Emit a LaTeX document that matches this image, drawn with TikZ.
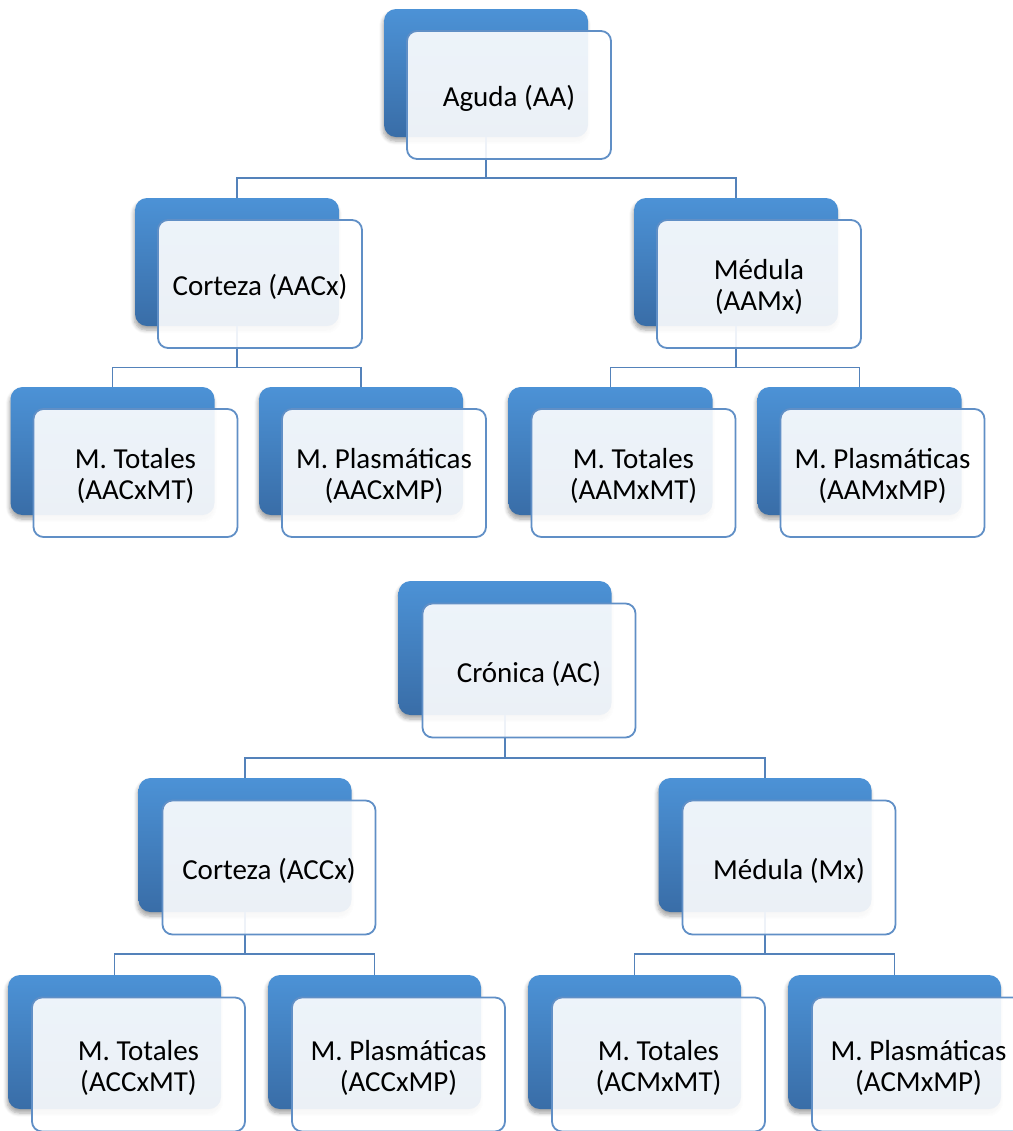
\documentclass[tikz,border=0pt]{standalone}
\usepackage{fontspec}
\setmainfont{Carlito}
\usetikzlibrary{shadows.blur}
\definecolor{bluetop}{RGB}{76,146,214}
\definecolor{bluebot}{RGB}{57,109,167}
\definecolor{frontline}{RGB}{96,143,198}
\definecolor{linecol}{RGB}{84,130,186}
\tikzset{
  backbox/.style={rectangle, rounded corners=6pt, top color=bluetop, bottom color=bluebot, draw=none, inner sep=0pt,
    blur shadow={shadow xshift=-0.5pt, shadow yshift=-2pt, shadow blur steps=6, shadow opacity=35}},
  frontbox/.style={rectangle, rounded corners=5pt, fill=white, fill opacity=0.9, draw=frontline, line width=0.9pt,
    inner sep=0pt,
    label={[inner sep=0pt, align=center, text opacity=1, fill opacity=1, yshift=-1.5pt, font=\fontsize{14.5}{15.5}\selectfont]center:#1}},
  small/.style={minimum width=102pt, minimum height=64pt},
  big/.style={minimum width=106.5pt, minimum height=67pt},
  conn/.style={draw=linecol, line width=0.85pt},
}
\begin{document}
\begin{tikzpicture}[x=0.5pt,y=-0.5pt]
\useasboundingbox (0,0) rectangle (1013,1131);
\clip (0,0) rectangle (1013,1131);
% ---------- upper tree: back boxes ----------
\node[backbox,small] (aaB)     at (486,73) {};
\node[backbox,small] (aacxB)   at (237,262) {};
\node[backbox,small] (aamxB)   at (736,262) {};
\node[backbox,small] (aacxmtB) at (112.5,451) {};
\node[backbox,small] (aacxmpB) at (361,451) {};
\node[backbox,small] (aamxmtB) at (610.5,451) {};
\node[backbox,small] (aamxmpB) at (859.5,451) {};
% ---------- lower tree: back boxes ----------
\node[backbox,big] (acB)     at (505,648) {};
\node[backbox,big] (accxB)   at (245,845) {};
\node[backbox,big] (acmxB)   at (765,845) {};
\node[backbox,big] (accxmtB) at (114.5,1042) {};
\node[backbox,big] (accxmpB) at (374.5,1042) {};
\node[backbox,big] (acmxmtB) at (634.5,1042) {};
\node[backbox,big] (acmxmpB) at (894.5,1042) {};
% ---------- connectors ----------
\coordinate (h1) at (0,178);
\coordinate (h2) at (0,367.5);
\coordinate (h3) at (0,758);
\coordinate (h4) at (0,954);
\draw[conn] (aaB.south) -- (aaB.south |- h1) -| (aacxB.north);
\draw[conn] (aaB.south |- h1) -| (aamxB.north);
\draw[conn] (aacxB.south) -- (aacxB.south |- h2) -| (aacxmtB.north);
\draw[conn] (aacxB.south |- h2) -| (aacxmpB.north);
\draw[conn] (aamxB.south) -- (aamxB.south |- h2) -| (aamxmtB.north);
\draw[conn] (aamxB.south |- h2) -| (aamxmpB.north);
\draw[conn] (acB.south) -- (acB.south |- h3) -| (accxB.north);
\draw[conn] (acB.south |- h3) -| (acmxB.north);
\draw[conn] (accxB.south) -- (accxB.south |- h4) -| (accxmtB.north);
\draw[conn] (accxB.south |- h4) -| (accxmpB.north);
\draw[conn] (acmxB.south) -- (acmxB.south |- h4) -| (acmxmtB.north);
\draw[conn] (acmxB.south |- h4) -| (acmxmpB.north);
% ---------- upper tree: front boxes ----------
\node[frontbox={Aguda (AA)},small] (aa)     at (509,95) {};
\node[frontbox={Corteza (AACx)},small] (aacx)   at (260,284) {};
\node[frontbox={Médula\\(AAMx)},small] (aamx)   at (759,284) {};
\node[frontbox={M. Totales\\(AACxMT)},small] (aacxmt) at (135.5,473) {};
\node[frontbox={M. Plasmáticas\\(AACxMP)},small] (aacxmp) at (384,473) {};
\node[frontbox={M. Totales\\(AAMxMT)},small] (aamxmt) at (633.5,473) {};
\node[frontbox={M. Plasmáticas\\(AAMxMP)},small] (aamxmp) at (882.5,473) {};
% ---------- lower tree: front boxes ----------
\node[frontbox={Crónica (AC)},big] (ac)     at (529,670.5) {};
\node[frontbox={Corteza (ACCx)},big] (accx)   at (269,867.5) {};
\node[frontbox={Médula (Mx)},big] (acmx)   at (789,867.5) {};
\node[frontbox={M. Totales\\(ACCxMT)},big] (accxmt) at (138.5,1064.5) {};
\node[frontbox={M. Plasmáticas\\(ACCxMP)},big] (accxmp) at (398.5,1064.5) {};
\node[frontbox={M. Totales\\(ACMxMT)},big] (acmxmt) at (658.5,1064.5) {};
\node[frontbox={M. Plasmáticas\\(ACMxMP)},big] (acmxmp) at (918.5,1064.5) {};
\end{tikzpicture}
\end{document}
